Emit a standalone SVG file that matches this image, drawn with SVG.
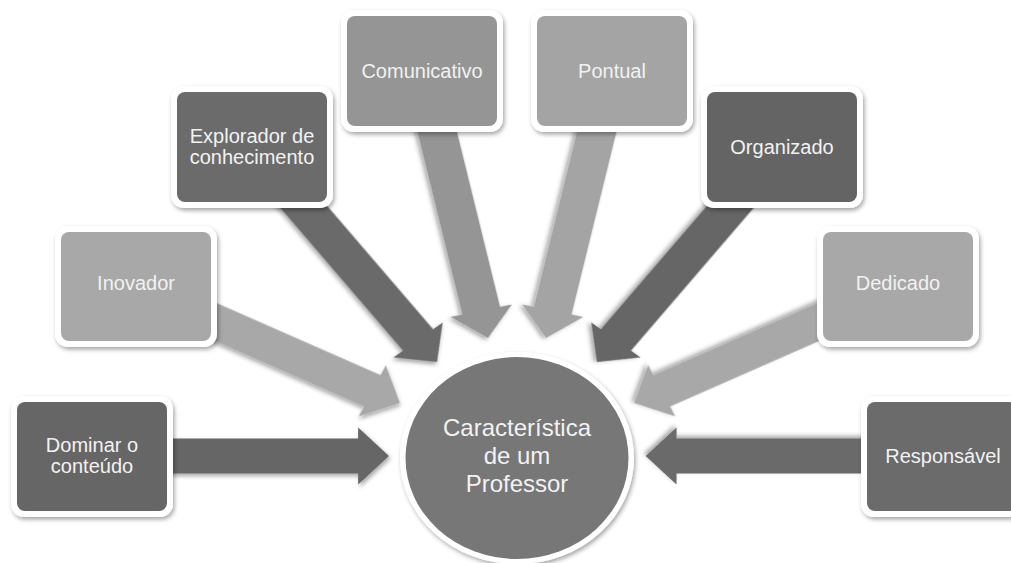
<svg xmlns="http://www.w3.org/2000/svg" width="1011" height="563" viewBox="0 0 1011 563">
<defs>
<filter id="sh" x="-20%" y="-20%" width="140%" height="140%">
<feDropShadow dx="1.5" dy="2.5" stdDeviation="2" flood-color="#000" flood-opacity="0.35"/>
</filter>
<path id="arr" d="M0,0 L-28,-28.5 L-28,-17.5 L-270,-17.5 L-270,17.5 L-28,17.5 L-28,28.5 Z"/>
<style>
.frame{fill:#ffffff;filter:url(#sh)}
.t{font-family:"Liberation Sans",Arial,sans-serif;font-size:20px;fill:#f2f2f2;text-anchor:middle}
.c{font-family:"Liberation Sans",Arial,sans-serif;font-size:24px;fill:#f2f2f2;text-anchor:middle}
.dk{fill:#666666}
.dk2{fill:#6b6b6b}
.md{fill:#959595}
.lt{fill:#a8a8a8}
.lt2{fill:#a4a4a4}
</style>
</defs>
<rect width="1011" height="563" fill="#ffffff"/>
<g id="connectors" transform="scale(1.1,1)">
<use href="#arr" class="dk" filter="url(#sh)" transform="translate(353.6,456) rotate(0)"/>
<use href="#arr" class="lt" filter="url(#sh)" transform="translate(363.6,403) rotate(25.8)"/>
<use href="#arr" class="dk2" filter="url(#sh)" transform="translate(397.3,362) rotate(52)"/>
<use href="#arr" class="md" filter="url(#sh)" transform="translate(443.6,338) rotate(77.4)"/>
<use href="#arr" class="lt2" filter="url(#sh)" transform="translate(496.4,338) rotate(102.6)"/>
<use href="#arr" class="dk" filter="url(#sh)" transform="translate(542.7,362) rotate(128)"/>
<use href="#arr" class="lt" filter="url(#sh)" transform="translate(576.4,403) rotate(154.2)"/>
<use href="#arr" class="dk2" filter="url(#sh)" transform="translate(587,456) rotate(180)"/>
</g>
<g id="center">
<ellipse cx="517" cy="458" rx="117" ry="106" class="frame"/>
<ellipse cx="517" cy="458" rx="111.5" ry="101" fill="#777777"/>
<text class="c" x="517" y="436">Característica</text>
<text class="c" x="517" y="464">de um</text>
<text class="c" x="517" y="492">Professor</text>
</g>
<g id="n-dominar">
<rect x="11" y="396" width="162" height="121" rx="13" class="frame"/>
<rect x="17" y="402" width="150" height="109" rx="8" class="dk"/>
<text class="t" x="92" y="452">Dominar o</text>
<text class="t" x="92" y="473">conteúdo</text>
</g>
<g id="n-inovador">
<rect x="55" y="226" width="162" height="121" rx="13" class="frame"/>
<rect x="61" y="232" width="150" height="109" rx="8" class="lt"/>
<text class="t" x="136" y="290">Inovador</text>
</g>
<g id="n-explorador">
<rect x="171" y="86" width="162" height="122" rx="13" class="frame"/>
<rect x="177" y="92" width="150" height="110" rx="8" class="dk2"/>
<text class="t" x="252" y="143">Explorador de</text>
<text class="t" x="252" y="164">conhecimento</text>
</g>
<g id="n-comunicativo">
<rect x="341" y="10" width="162" height="122" rx="13" class="frame"/>
<rect x="347" y="16" width="150" height="110" rx="8" class="md"/>
<text class="t" x="422" y="78">Comunicativo</text>
</g>
<g id="n-pontual">
<rect x="531" y="10" width="162" height="122" rx="13" class="frame"/>
<rect x="537" y="16" width="150" height="110" rx="8" class="lt2"/>
<text class="t" x="612" y="78">Pontual</text>
</g>
<g id="n-organizado">
<rect x="701" y="86" width="162" height="122" rx="13" class="frame"/>
<rect x="707" y="92" width="150" height="110" rx="8" fill="#646464"/>
<text class="t" x="782" y="154">Organizado</text>
</g>
<g id="n-dedicado">
<rect x="817" y="226" width="162" height="121" rx="13" class="frame"/>
<rect x="823" y="232" width="150" height="109" rx="8" class="lt"/>
<text class="t" x="898" y="290">Dedicado</text>
</g>
<g id="n-responsavel">
<rect x="861" y="396" width="162" height="121" rx="13" class="frame"/>
<rect x="867" y="402" width="150" height="109" rx="8" class="dk2"/>
<text class="t" x="943" y="463">Responsável</text>
</g>
</svg>
